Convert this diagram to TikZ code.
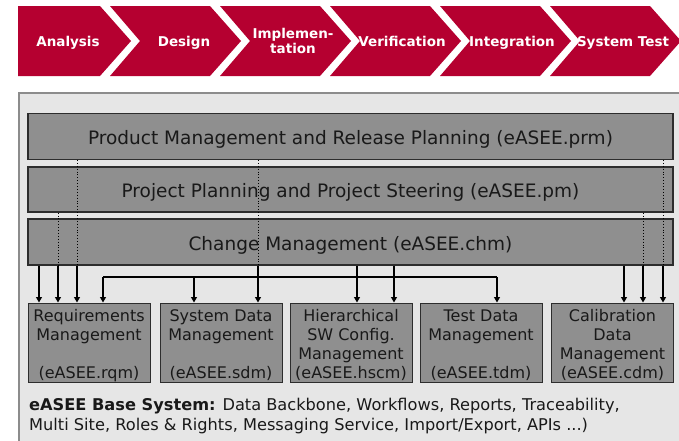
\documentclass[tikz,border=0pt]{standalone}
\usepackage{fontspec}
\setmainfont{DejaVu Sans}
\usetikzlibrary{arrows.meta,calc}
\definecolor{chevred}{RGB}{181,0,48}
\definecolor{framebg}{RGB}{230,230,230}
\definecolor{frameln}{RGB}{140,140,140}
\definecolor{barfill}{RGB}{143,143,143}
\definecolor{barline}{RGB}{45,45,45}
\definecolor{txt}{RGB}{25,25,25}
\tikzset{
  chev/.style={fill=chevred,draw=none},
  chevtext/.style={text=white,font=\fontsize{13.5}{15.5}\selectfont\bfseries,align=center,inner sep=0pt},
  chevone/.style={chevtext,text height=11.4pt,text depth=0pt},
  bar/.style={fill=barfill,draw=barline,line width=1.2pt,minimum width=645pt,minimum height=46pt,inner sep=0pt,
    text=txt,font=\fontsize{18.5}{21}\selectfont,text height=16.5pt,text depth=0pt},
  modbox/.style={fill=barfill,draw=barline,line width=1pt,minimum width=122pt,minimum height=79pt,inner sep=0pt,
    text=txt,font=\fontsize{16}{19}\selectfont,align=center},
  arr/.style={line width=1.1pt,-{Triangle[width=6pt,length=5.5pt]}},
  dotl/.style={line width=0.9pt,dotted},
  busline/.style={line width=1.4pt},
  basetext/.style={anchor=base west,inner sep=0pt,text=txt,font=\fontsize{16.2}{19}\selectfont}
}
\newcommand{\fl}{\rule{0pt}{17.5pt}}
\begin{document}
\begin{tikzpicture}[x=1pt,y=-1pt]
\useasboundingbox (0,0) rectangle (679,440);
\clip (0,0) rectangle (679,440);
% chevrons
\fill[chev] (18,6) -- (100,6) -- (131,41) -- (100,76) -- (18,76) -- cycle;
\foreach \k in {1,...,5}{
  \pgfmathsetmacro{\L}{110*\k}
  \pgfmathsetmacro{\R}{100+110*\k}
  \fill[chev] (\L,6) -- (\R,6) -- (\R+31,41) -- (\R,76) -- (\L,76) -- (\L+30,41) -- cycle;
}
\node[chevone] (c1) at (68,41) {Analysis};
\node[chevone] (c2) at (184,41) {Design};
\node[chevtext] (c3) at (293,41) {Implemen-\\tation};
\node[chevone] (c4) at (402,41) {Verification};
\node[chevone] (c5) at (512,41) {Integration};
\node[chevone] (c6) at (623,41) {System Test};
% frame
\draw[fill=framebg,draw=frameln,line width=1.2pt] (19,93) rectangle (700,460);
% bars
\node[bar] (prm) at (350.5,136.3) {Product Management and Release Planning (eASEE.prm)};
\node[bar,minimum height=45pt] (pm) at (350.5,189.5) {Project Planning and Project Steering (eASEE.pm)};
\node[bar] (chm) at (350.5,242) {Change Management (eASEE.chm)};
% modules
\node[modbox] (rqm) at (89,342.5) {\fl Requirements\\Management\\\mbox{}\\(eASEE.rqm)};
\node[modbox] (sdm) at (221,342.5) {\fl System Data\\Management\\\mbox{}\\(eASEE.sdm)};
\node[modbox] (hscm) at (351,342.5) {\fl Hierarchical\\SW Config.\\Management\\(eASEE.hscm)};
\node[modbox] (tdm) at (481,342.5) {\fl Test Data\\Management\\\mbox{}\\(eASEE.tdm)};
\node[modbox] (cdm) at (612.5,342.5) {\fl Calibration\\Data\\Management\\(eASEE.cdm)};
% connectors to rqm
\draw[arr] (chm.south -| 39,0) -- (rqm.north -| 39,0);
\draw[dotl] (pm.south -| 58,0) -- (chm.south -| 58,0);
\draw[arr] (chm.south -| 58,0) -- (rqm.north -| 58,0);
\draw[dotl] (prm.south -| 77,0) -- (chm.south -| 77,0);
\draw[arr] (chm.south -| 77,0) -- (rqm.north -| 77,0);
% connector to sdm from prm
\draw[dotl] (prm.south -| 258,0) -- (chm.south -| 258,0);
\draw[arr] (chm.south -| 258,0) -- (sdm.north -| 258,0);
% hscm
\draw[arr] (chm.south -| 357,0) -- (hscm.north -| 357,0);
\draw[arr] (chm.south -| 394,0) -- (hscm.north -| 394,0);
% bus
\coordinate (b1) at (103,277);
\coordinate (b2) at (194,277);
\coordinate (b3) at (497,277);
\draw[busline] (b1) -- (b3);
\draw[arr] (b1) -- (b1 |- rqm.north);
\draw[arr] (b2) -- (b2 |- sdm.north);
\draw[arr] (b3) -- (b3 |- tdm.north);
% cdm
\draw[arr] (chm.south -| 624,0) -- (cdm.north -| 624,0);
\draw[dotl] (pm.south -| 643,0) -- (chm.south -| 643,0);
\draw[arr] (chm.south -| 643,0) -- (cdm.north -| 643,0);
\draw[dotl] (prm.south -| 663,0) -- (chm.south -| 663,0);
\draw[arr] (chm.south -| 663,0) -- (cdm.north -| 663,0);
% base system text
\node[basetext] (base1) at (29,410) {\textbf{eASEE Base System:} Data Backbone, Workflows, Reports, Traceability,};
\node[basetext] (base2) at (29,430) {Multi Site, Roles \& Rights, Messaging Service, Import/Export, APIs ...)};
\end{tikzpicture}
\end{document}
